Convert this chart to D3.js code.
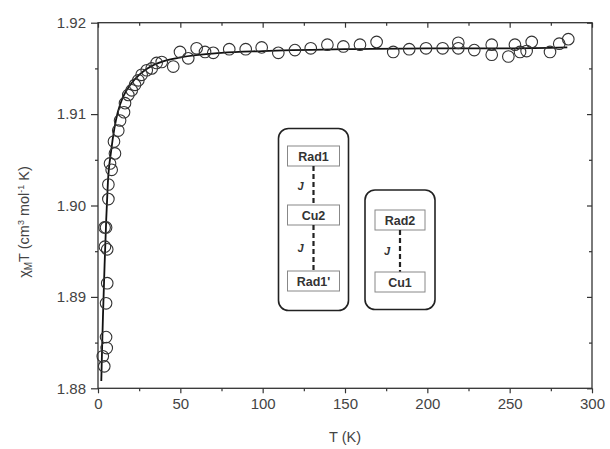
<!DOCTYPE html>
<html>
<head>
<meta charset="utf-8">
<script src="https://cdn.jsdelivr.net/npm/d3@7"></script>
<style>
  body { margin: 0; background: #fff; overflow: hidden; }
  svg { display: block; }
  svg text { font-family: "Liberation Sans", Arial, sans-serif; }
</style>
</head>
<body>
<div id="chart"></div>
<script>
// measured data (T in K, chiMT in cm3 mol-1 K)
var tData = [2.9, 3.8, 5.3, 4.9, 4.9, 5.6, 4.2, 5.6, 4.0, 4.9, 6.3, 6.3, 8.3, 7.3, 10.3, 9.7, 12.3, 13.4,
  15.8, 16.4, 18.4, 20.5, 22.5, 24.5, 26.5, 29.6, 32.6, 35.6, 38.7, 45.7, 49.8, 54.8, 59.9, 65.0,
  70.0, 79.7, 89.7, 99.4, 109.5, 119.6, 129.2, 139.3, 149.0, 159.1, 169.2, 179.3, 189.0, 199.2,
  209.3, 218.8, 218.8, 228.5, 239.1, 239.1, 249.2, 253.2, 256.3, 260.3, 263.4, 274.5, 280.1, 285.6];
var chiData = [1.8835, 1.8824, 1.8844, 1.8856, 1.8893, 1.8915, 1.8955, 1.8952, 1.8976, 1.8976, 1.9007, 1.9023,
  1.9039, 1.9046, 1.9057, 1.9070, 1.9082, 1.9093, 1.9102, 1.9112, 1.9121, 1.9126, 1.9132, 1.9137,
  1.9143, 1.9148, 1.9150, 1.9156, 1.9157, 1.9152, 1.9168, 1.9161, 1.9172, 1.9168, 1.9167, 1.9171,
  1.9171, 1.9173, 1.9167, 1.9170, 1.9172, 1.9176, 1.9174, 1.9176, 1.9179, 1.9168, 1.9171, 1.9172,
  1.9172, 1.9178, 1.9172, 1.9170, 1.9176, 1.9165, 1.9163, 1.9176, 1.9168, 1.9169, 1.9179, 1.9168,
  1.9177, 1.9182];

// fitted curve
var tFit = [2, 2.5, 3, 4, 5, 6, 8, 10, 12, 15, 20, 25, 30, 40, 50, 75, 100, 150, 200, 250, 285];
var chiFit = [1.8808, 1.8845, 1.8878, 1.8935, 1.8985, 1.9025, 1.9060, 1.9085, 1.9102, 1.9118, 1.9133,
  1.9143, 1.9150, 1.9158, 1.9162, 1.9167, 1.9169, 1.9171, 1.9172, 1.9172, 1.9173];

var xTicks = [0, 50, 100, 150, 200, 250, 300];
var xMinor = [25, 75, 125, 175, 225, 275];
var yTicks = [1.88, 1.89, 1.90, 1.91, 1.92];
var yMinor = [1.885, 1.895, 1.905, 1.915];
var yTickLabels = ["1.88", "1.89", "1.90", "1.91", "1.92"];

// exchange scheme inset
var leftChain = ["Rad1", "Cu2", "Rad1'"];
var rightChain = ["Rad2", "Cu1"];

var margin = {top: 22.7, right: 18, bottom: 60.7, left: 98};
var width = 610, height = 449;
var innerWidth = width - margin.left - margin.right;
var innerHeight = height - margin.top - margin.bottom;

var svg = d3.select("#chart").append("svg")
    .attr("width", width)
    .attr("height", height);

var g = svg.append("g")
    .attr("transform", "translate(" + margin.left + "," + margin.top + ")");

var xScale = d3.scaleLinear().domain([0, 300]).range([0, innerWidth]);
var yScale = d3.scaleLinear().domain([1.88, 1.92]).range([innerHeight, 0]);

var axisColor = "#333";
var textColor = "#444";

// frame
g.append("rect")
  .attr("width", innerWidth)
  .attr("height", innerHeight)
  .attr("fill", "none")
  .attr("stroke", axisColor)
  .attr("stroke-width", 1.3);

// bottom axis
var xAxis = d3.axisBottom(xScale).tickValues(xTicks).tickSize(5).tickPadding(5).tickFormat(d3.format("d"));
var xAxisG = g.append("g").attr("transform", "translate(0," + innerHeight + ")").call(xAxis);
g.append("g").attr("class", "minor").attr("transform", "translate(0," + innerHeight + ")")
  .call(d3.axisBottom(xScale).tickValues(xMinor).tickSize(3));
// top mirror ticks
g.append("g").attr("class", "minor").call(d3.axisTop(xScale).tickValues(xTicks).tickSize(-5));
g.append("g").attr("class", "minor").call(d3.axisTop(xScale).tickValues(xMinor).tickSize(-3));

// left axis
var yAxis = d3.axisLeft(yScale).tickValues(yTicks).tickSize(7).tickPadding(5)
  .tickFormat(function(d, i){ return yTickLabels[i]; });
var yAxisG = g.append("g").call(yAxis);
g.append("g").attr("class", "minor").call(d3.axisLeft(yScale).tickValues(yMinor).tickSize(3));
// right mirror ticks
g.append("g").attr("class", "minor").attr("transform", "translate(" + innerWidth + ",0)")
  .call(d3.axisRight(yScale).tickValues(yTicks).tickSize(-5));
g.append("g").attr("class", "minor").attr("transform", "translate(" + innerWidth + ",0)")
  .call(d3.axisRight(yScale).tickValues(yMinor).tickSize(-3));

g.selectAll(".minor .tick text").remove();
g.selectAll(".domain").remove();
g.selectAll(".tick line").attr("stroke", axisColor).attr("stroke-width", 1.2);
g.selectAll(".tick text")
  .attr("font-size", "15px")
  .attr("fill", textColor);

// axis titles
svg.append("text")
  .attr("x", margin.left + innerWidth / 2)
  .attr("y", 442)
  .attr("text-anchor", "middle")
  .attr("font-size", "14.5px")
  .attr("fill", textColor)
  .text("T (K)");

var yTitle = svg.append("text")
  .attr("transform", "translate(29,222) rotate(-90)")
  .attr("text-anchor", "middle")
  .attr("font-size", "14.5px")
  .attr("fill", textColor);
yTitle.append("tspan").text("\u03C7");
yTitle.append("tspan").attr("font-size", "10px").attr("dy", "3").text("M");
yTitle.append("tspan").attr("dy", "-3").text("T (cm");
yTitle.append("tspan").attr("font-size", "9px").attr("dy", "-5").text("3");
yTitle.append("tspan").attr("dy", "5").text(" mol");
yTitle.append("tspan").attr("font-size", "9px").attr("dy", "-5").text("-1");
yTitle.append("tspan").attr("dy", "5").text(" K)");

// fit line
var fitPts = tFit.map(function(t, i){ return [t, chiFit[i]]; });
var line = d3.line()
  .x(function(d){ return xScale(d[0]); })
  .y(function(d){ return yScale(d[1]); })
  .curve(d3.curveMonotoneX);

g.append("path")
  .datum(fitPts)
  .attr("fill", "none")
  .attr("stroke", "#111")
  .attr("stroke-width", 1.8)
  .attr("d", line);

// data circles
var pts = tData.map(function(t, i){ return {T: t, v: chiData[i]}; });
g.selectAll("circle.pt")
  .data(pts)
  .enter().append("circle")
  .attr("class", "pt")
  .attr("cx", function(d){ return xScale(d.T); })
  .attr("cy", function(d){ return yScale(d.v); })
  .attr("r", 5.8)
  .attr("fill", "none")
  .attr("stroke", "#333")
  .attr("stroke-width", 1.1);

// inset: exchange scheme
var inset = svg.append("g");
function drawChain(group, names, x0, y0, w, h, boxW, boxH, boxYs) {
  group.append("rect")
    .attr("x", x0).attr("y", y0).attr("width", w).attr("height", h)
    .attr("rx", 10).attr("ry", 10)
    .attr("fill", "#fff").attr("stroke", "#222").attr("stroke-width", 1.6);
  var cx = x0 + w / 2;
  names.forEach(function(n, i){
    if (i > 0) {
      var yTop = boxYs[i - 1] + boxH;
      var yBot = boxYs[i];
      group.append("line")
        .attr("x1", cx).attr("x2", cx).attr("y1", yTop).attr("y2", yBot)
        .attr("stroke", "#222").attr("stroke-width", 2.2)
        .attr("stroke-dasharray", "5,3");
      group.append("text")
        .attr("x", cx - 16).attr("y", (yTop + yBot) / 2 + 4)
        .attr("font-size", "11px").attr("font-style", "italic").attr("font-weight", "bold")
        .attr("fill", "#333").text("J");
    }
    group.append("rect")
      .attr("x", cx - boxW / 2).attr("y", boxYs[i]).attr("width", boxW).attr("height", boxH)
      .attr("fill", "#fff").attr("stroke", "#888").attr("stroke-width", 1);
    group.append("text")
      .attr("x", cx).attr("y", boxYs[i] + boxH / 2 + 4.5)
      .attr("text-anchor", "middle")
      .attr("font-size", "12.5px").attr("font-weight", "bold")
      .attr("fill", "#333").text(n);
  });
}
drawChain(inset, leftChain, 278.5, 128.5, 70, 182, 52, 20, [146, 205, 271]);
drawChain(inset, rightChain, 365, 190, 70, 119.5, 50, 20, [210, 272]);
</script>
</body>
</html>
